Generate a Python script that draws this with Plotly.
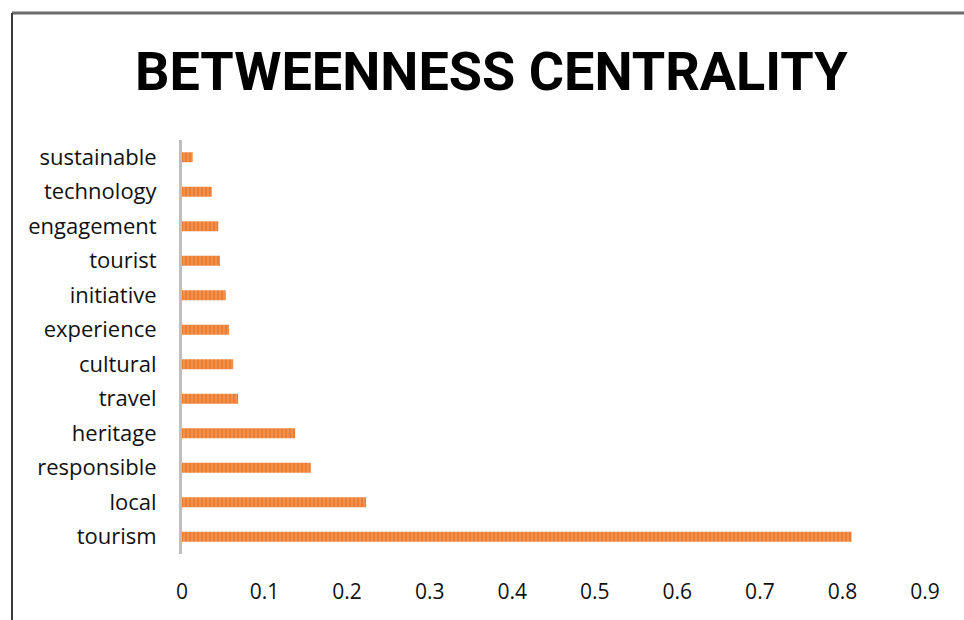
import plotly.graph_objects as go

# Betweenness centrality of the keyword network
terms = ["tourism", "local", "responsible", "heritage", "travel", "cultural",
         "experience", "initiative", "tourist", "engagement", "technology", "sustainable"]
centrality = [0.811, 0.223, 0.156, 0.137, 0.068, 0.062,
              0.057, 0.053, 0.046, 0.044, 0.036, 0.013]
x_ticks = [0, 0.1, 0.2, 0.3, 0.4, 0.5, 0.6, 0.7, 0.8, 0.9]

W, H = 964, 620
ML, MR, MT, MB = 182, 39, 140, 66
pw, ph = W - ML - MR, H - MT - MB

fig = go.Figure(go.Bar(
    x=centrality,
    y=terms,
    orientation="h",
    marker=dict(
        color="#ED7D31",
        line=dict(width=0),
        pattern=dict(shape="|", fgcolor="#F7BC95", bgcolor="#ED7D31",
                     size=4, solidity=0.3),
    ),
    hoverinfo="x+y",
))

fig.update_layout(
    width=W, height=H,
    margin=dict(l=ML, r=MR, t=MT, b=MB),
    paper_bgcolor="white", plot_bgcolor="white",
    bargap=0.71,
    showlegend=False,
    font=dict(family="Open Sans, Noto Sans, sans-serif", color="#111111"),
)

fig.add_annotation(
    text="<b>BETWEENNESS CENTRALITY</b>",
    xref="paper", yref="paper",
    x=(491 - ML) / pw, y=(H - MB - 72) / ph,
    xanchor="center", yanchor="middle",
    showarrow=False,
    font=dict(family="Roboto, sans-serif", size=54, color="#000000"),
)

fig.update_xaxes(
    range=[0, 0.9], tickvals=x_ticks,
    ticktext=[f"{v:g}" for v in x_ticks],
    showgrid=False, zeroline=False, showline=False,
    ticks="", ticklabelstandoff=23,
    tickfont=dict(size=21, color="#111111"),
    fixedrange=True,
)
fig.update_yaxes(
    categoryorder="array", categoryarray=terms[::-1],
    autorange="reversed",
    showgrid=False, zeroline=False,
    showline=True, linecolor="#BFBFBF", linewidth=3,
    ticks="", ticklabelstandoff=18,
    tickfont=dict(size=22, color="#111111"),
    fixedrange=True,
)

# Outer frame: top and left edges
def px_to_paper_x(px):
    return (px - ML) / pw

def px_to_paper_y(py):
    return (H - MB - py) / ph

fig.add_shape(type="line", xref="paper", yref="paper",
              x0=px_to_paper_x(12), x1=px_to_paper_x(W + 5),
              y0=px_to_paper_y(13), y1=px_to_paper_y(13),
              line=dict(color="#6b6b6b", width=3))
fig.add_shape(type="line", xref="paper", yref="paper",
              x0=px_to_paper_x(12), x1=px_to_paper_x(12),
              y0=px_to_paper_y(13), y1=px_to_paper_y(H + 5),
              line=dict(color="#3a3a3a", width=2))

fig.write_html("out.html")
